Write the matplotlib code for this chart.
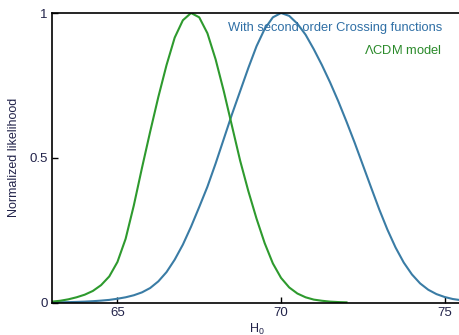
import matplotlib
matplotlib.use("Agg")
import matplotlib.pyplot as plt

plt.rcParams['font.family'] = ['Liberation Sans', 'DejaVu Sans']
plt.rcParams['mathtext.fontset'] = 'custom'
plt.rcParams['mathtext.it'] = 'Liberation Sans:italic'
plt.rcParams['mathtext.rm'] = 'Liberation Sans'

# Normalized likelihood of H0 for the LCDM fit
h0_green = [63.0, 63.25, 63.5, 63.75, 64.0, 64.25, 64.5, 64.75, 65.0, 65.25,
            65.5, 65.75, 66.0, 66.25, 66.5, 66.75, 67.0, 67.25, 67.5, 67.75,
            68.0, 68.25, 68.5, 68.75, 69.0, 69.25, 69.5, 69.75, 70.0, 70.25,
            70.5, 70.75, 71.0, 71.25, 71.5, 71.75, 72.0]
like_lcdm = [0.003, 0.006, 0.011, 0.018, 0.027, 0.04, 0.06, 0.09, 0.14, 0.22,
             0.335, 0.465, 0.59, 0.71, 0.82, 0.915, 0.975, 1.0, 0.985, 0.93,
             0.84, 0.73, 0.61, 0.49, 0.385, 0.29, 0.205, 0.135, 0.085, 0.052,
             0.031, 0.018, 0.010, 0.006, 0.003, 0.0015, 0.0005]

# Normalized likelihood of H0 with second order crossing functions
h0_blue = [63.0, 63.25, 63.5, 63.75, 64.0, 64.25, 64.5, 64.75, 65.0, 65.25,
           65.5, 65.75, 66.0, 66.25, 66.5, 66.75, 67.0, 67.25, 67.5, 67.75,
           68.0, 68.25, 68.5, 68.75, 69.0, 69.25, 69.5, 69.75, 70.0, 70.25,
           70.5, 70.75, 71.0, 71.25, 71.5, 71.75, 72.0, 72.25, 72.5, 72.75,
           73.0, 73.25, 73.5, 73.75, 74.0, 74.25, 74.5, 74.75, 75.0, 75.25, 75.5]
like_crossing = [0.0005, 0.0008, 0.0013, 0.002, 0.003, 0.0045, 0.0065, 0.009, 0.013, 0.018,
                 0.025, 0.035, 0.05, 0.073, 0.105, 0.148, 0.20, 0.262, 0.33, 0.40,
                 0.48, 0.565, 0.65, 0.73, 0.81, 0.885, 0.945, 0.985, 1.0, 0.99,
                 0.963, 0.925, 0.875, 0.82, 0.76, 0.695, 0.625, 0.552, 0.475, 0.398,
                 0.322, 0.252, 0.19, 0.138, 0.097, 0.066, 0.044, 0.029, 0.019, 0.012, 0.008]

x_ticks = [65, 70, 75]
y_ticks = [0, 0.5, 1]
y_tick_labels = ['0', '0.5', '1']

blue = '#3a7ca5'
green = '#2e9a2e'
label_color = '#22234a'

fig = plt.figure(figsize=(4.59, 3.35), dpi=100)
ax = fig.add_axes([52 / 459, 32.5 / 335, 409 / 459, 289.5 / 335])

ax.plot(h0_blue, like_crossing, color=blue, lw=1.5)
ax.plot(h0_green, like_lcdm, color=green, lw=1.5)

ax.set_xlim(63, 75.5)
ax.set_ylim(0, 1)
ax.set_xticks(x_ticks)
ax.set_yticks(y_ticks)
ax.set_yticklabels(y_tick_labels)
ax.tick_params(direction='in', length=4, width=1.0, labelsize=9.5,
               colors='black', labelcolor=label_color, pad=3)
for s in ax.spines.values():
    s.set_linewidth(1.2)

ax.set_xlabel('H$_0$', fontsize=9, color=label_color, labelpad=2)
ax.set_ylabel('Normalized likelihood', fontsize=9, color=label_color, labelpad=7)

ax.text(0.954, 0.948, 'With second order Crossing functions', transform=ax.transAxes,
        ha='right', va='center', fontsize=9.3, color='#2f6fa5')
ax.text(0.954, 0.872, r'$\mathit{\Lambda}$CDM model', transform=ax.transAxes,
        ha='right', va='center', fontsize=9.3, color='#2a8a2a')

fig.savefig('out.png', dpi=100)
